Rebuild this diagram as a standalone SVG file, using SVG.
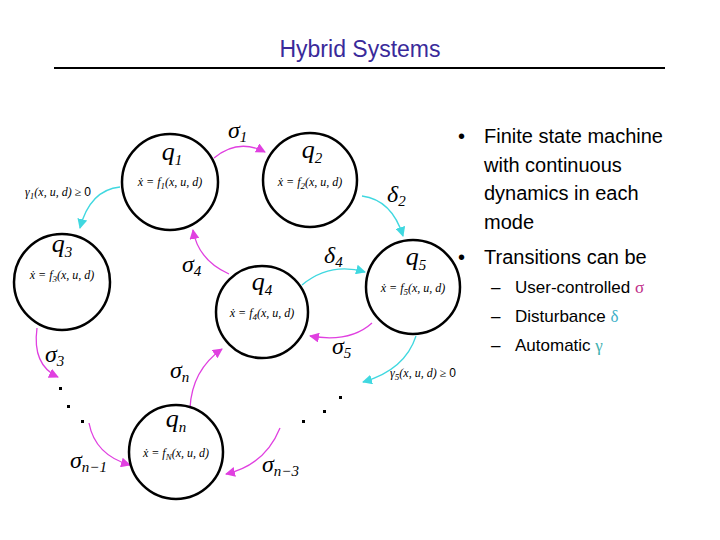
<svg xmlns="http://www.w3.org/2000/svg" width="720" height="540" viewBox="0 0 720 540">
<style>
.st{fill:#fff;stroke:#000;stroke-width:2.5}
.q{font-family:"Liberation Serif",serif;font-style:italic;font-size:26px;text-anchor:middle}
.eq{font-family:"Liberation Serif",serif;font-style:italic;font-size:12px;text-anchor:middle}
.g{font-family:"Liberation Serif",serif;font-style:italic;font-size:24px}
.sub{font-size:15px}
.m{fill:none;stroke:#e040e0;stroke-width:1.3}
.c{fill:none;stroke:#40d8e0;stroke-width:1.3}
.t{font-family:"Liberation Sans",Arial,sans-serif;font-size:20px}
.s{font-family:"Liberation Sans",Arial,sans-serif;font-size:17px}
</style>
<defs>
<marker id="am" viewBox="0 0 10 10" refX="9" refY="5" markerWidth="10" markerHeight="10" markerUnits="userSpaceOnUse" orient="auto"><path d="M0,0L10,5L0,10z" fill="#e040e0"/></marker>
<marker id="ac" viewBox="0 0 10 10" refX="9" refY="5" markerWidth="10" markerHeight="10" markerUnits="userSpaceOnUse" orient="auto"><path d="M0,0L10,5L0,10z" fill="#40d8e0"/></marker>
</defs>
<text x="360" y="57" text-anchor="middle" font-family="Liberation Sans,Arial,sans-serif" font-size="23" fill="#3a2a9a">Hybrid Systems</text>
<line x1="54" y1="68" x2="665" y2="68" stroke="#000" stroke-width="2"/>
<g id="connectors">
<path class="m" d="M214,158 Q238,138 265,152" marker-end="url(#am)"/>
<path class="c" d="M120,187 Q90,190 80,228" marker-end="url(#ac)"/>
<path class="c" d="M362,196 Q392,200 403,236" marker-end="url(#ac)"/>
<path class="m" d="M229,274 Q198,260 193,230" marker-end="url(#am)"/>
<path class="c" d="M302,285 Q330,262 365,272" marker-end="url(#ac)"/>
<path class="m" d="M372,323 Q350,343 310,336" marker-end="url(#am)"/>
<path class="c" d="M416,336 Q405,370 363,382" marker-end="url(#ac)"/>
<path class="m" d="M37,328 Q32,365 58,377" marker-end="url(#am)"/>
<path class="m" d="M89,423 Q95,455 130,465" marker-end="url(#am)"/>
<path class="m" d="M190,408 Q192,370 222,349" marker-end="url(#am)"/>
<path class="m" d="M280,428 Q265,465 226,474" marker-end="url(#am)"/>
</g>
<g id="dots" fill="#000">
<rect x="59" y="387" width="3" height="3"/><rect x="67" y="405" width="3" height="3"/><rect x="81" y="420" width="3" height="3"/>
<rect x="302" y="420" width="3" height="3"/><rect x="323" y="410" width="3" height="3"/><rect x="339" y="396" width="3" height="3"/>
</g>
<g id="q1"><circle class="st" cx="170" cy="182" r="48"/><text class="q" x="172" y="160">q<tspan class="sub" dy="5">1</tspan></text><text class="eq" x="170" y="186">ẋ = f<tspan font-size="9" dy="3">1</tspan><tspan dy="-3">(x, u, d)</tspan></text></g>
<g id="q2"><circle class="st" cx="310" cy="180" r="47"/><text class="q" x="312" y="158">q<tspan class="sub" dy="5">2</tspan></text><text class="eq" x="310" y="186">ẋ = f<tspan font-size="9" dy="3">2</tspan><tspan dy="-3">(x, u, d)</tspan></text></g>
<g id="q3"><circle class="st" cx="62" cy="282" r="48"/><text class="q" x="62" y="252">q<tspan class="sub" dy="5">3</tspan></text><text class="eq" x="62" y="279">ẋ = f<tspan font-size="9" dy="3">3</tspan><tspan dy="-3">(x, u, d)</tspan></text></g>
<g id="q4"><circle class="st" cx="262" cy="312" r="46"/><text class="q" x="262" y="290">q<tspan class="sub" dy="5">4</tspan></text><text class="eq" x="262" y="317">ẋ = f<tspan font-size="9" dy="3">4</tspan><tspan dy="-3">(x, u, d)</tspan></text></g>
<g id="q5"><circle class="st" cx="413" cy="287" r="47"/><text class="q" x="416" y="265">q<tspan class="sub" dy="5">5</tspan></text><text class="eq" x="413" y="292">ẋ = f<tspan font-size="9" dy="3">5</tspan><tspan dy="-3">(x, u, d)</tspan></text></g>
<g id="qn"><circle class="st" cx="176" cy="452" r="47"/><text class="q" x="176" y="427">q<tspan class="sub" dy="5">n</tspan></text><text class="eq" x="176" y="457">ẋ = f<tspan font-size="9" dy="3">N</tspan><tspan dy="-3">(x, u, d)</tspan></text></g>
<g id="labels">
<text class="g" x="228" y="138">σ<tspan class="sub" dy="4">1</tspan></text>
<text class="eq" x="58" y="196" font-size="13">γ<tspan font-size="9" dy="3">1</tspan><tspan dy="-3">(x, u, d) ≥ </tspan><tspan font-style="normal" font-family="Liberation Sans,sans-serif">0</tspan></text>
<text class="g" x="387" y="202">δ<tspan class="sub" dy="4">2</tspan></text>
<text class="g" x="182" y="272">σ<tspan class="sub" dy="4">4</tspan></text>
<text class="g" x="324" y="263">δ<tspan class="sub" dy="4">4</tspan></text>
<text class="g" x="332" y="354">σ<tspan class="sub" dy="4">5</tspan></text>
<text class="eq" x="423" y="377" font-size="13">γ<tspan font-size="9" dy="3">5</tspan><tspan dy="-3">(x, u, d) ≥ </tspan><tspan font-style="normal" font-family="Liberation Sans,sans-serif">0</tspan></text>
<text class="g" x="45" y="362">σ<tspan class="sub" dy="4">3</tspan></text>
<text class="g" x="170" y="378">σ<tspan class="sub" dy="4">n</tspan></text>
<text class="g" x="70" y="468">σ<tspan class="sub" dy="4">n−1</tspan></text>
<text class="g" x="262" y="472">σ<tspan class="sub" dy="4">n−3</tspan></text>
</g>
<g id="text">
<text class="t" x="458" y="143">•</text><text class="t" x="484" y="143">Finite state machine</text>
<text class="t" x="484" y="172">with continuous</text>
<text class="t" x="484" y="200">dynamics in each</text>
<text class="t" x="484" y="229">mode</text>
<text class="t" x="458" y="264">•</text><text class="t" x="484" y="264">Transitions can be</text>
<text class="s" x="491" y="293">–</text><text class="s" x="515" y="293">User-controlled <tspan font-family="Liberation Serif,serif" fill="#c0308a">σ</tspan></text>
<text class="s" x="491" y="322">–</text><text class="s" x="515" y="322">Disturbance <tspan font-family="Liberation Serif,serif" fill="#40b0c8">δ</tspan></text>
<text class="s" x="491" y="351">–</text><text class="s" x="515" y="351">Automatic <tspan font-family="Liberation Serif,serif" fill="#40b0b0">γ</tspan></text>
</g>
</svg>
